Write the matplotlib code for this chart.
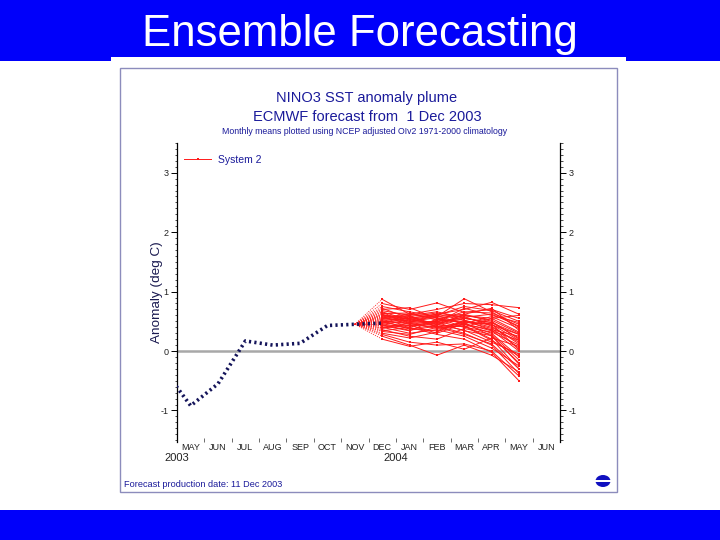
import numpy as np
import matplotlib
matplotlib.use('Agg')
import matplotlib.pyplot as plt
from matplotlib.patches import Rectangle, Ellipse
from matplotlib.ticker import MultipleLocator, FixedLocator, NullFormatter
import matplotlib.transforms as mtransforms

plt.rcParams['font.family'] = ['Liberation Sans', 'DejaVu Sans']
plt.rcParams['axes.unicode_minus'] = False

# --- данные ---
month_labels = ['MAY', 'JUN', 'JUL', 'AUG', 'SEP', 'OCT', 'NOV',
                'DEC', 'JAN', 'FEB', 'MAR', 'APR', 'MAY', 'JUN']
year_labels = ['2003', '2004']
year_starts = [0, 8]             # индекс месяца (от мая 2003), где начинается год

# наблюдения: месяцы от мая 2003 (апрель = -1)
obs_months = [-1, 0, 1, 2, 3, 4, 5, 6, 7]
obs_anom = [-0.30, -0.92, -0.55, 0.17, 0.10, 0.13, 0.43, 0.45, 0.47]

# прогноз System 2: дек 2003 .. май 2004
fc_months = [7, 8, 9, 10, 11, 12]
fan_start = 6                    # ноябрь 2003
members = [
    [0.87, 0.62, 0.70, 0.80, 0.78, 0.73],
    [0.80, 0.70, 0.81, 0.65, 0.70, 0.55],
    [0.75, 0.66, 0.58, 0.88, 0.66, 0.40],
    [0.72, 0.55, 0.62, 0.70, 0.82, 0.62],
    [0.70, 0.73, 0.55, 0.60, 0.52, 0.30],
    [0.68, 0.60, 0.66, 0.56, 0.45, 0.18],
    [0.66, 0.52, 0.48, 0.72, 0.60, 0.48],
    [0.63, 0.64, 0.52, 0.50, 0.38, 0.05],
    [0.62, 0.48, 0.60, 0.45, 0.30, -0.10],
    [0.60, 0.57, 0.44, 0.62, 0.72, 0.35],
    [0.58, 0.45, 0.50, 0.55, 0.48, 0.22],
    [0.56, 0.60, 0.40, 0.48, 0.25, -0.20],
    [0.55, 0.50, 0.56, 0.40, 0.55, 0.60],
    [0.53, 0.42, 0.46, 0.58, 0.42, 0.12],
    [0.52, 0.55, 0.62, 0.52, 0.35, 0.00],
    [0.50, 0.47, 0.38, 0.43, 0.20, -0.30],
    [0.49, 0.40, 0.52, 0.66, 0.64, 0.45],
    [0.48, 0.58, 0.45, 0.35, 0.15, -0.05],
    [0.46, 0.38, 0.34, 0.50, 0.44, 0.28],
    [0.45, 0.52, 0.58, 0.62, 0.50, 0.20],
    [0.44, 0.35, 0.42, 0.30, 0.10, -0.38],
    [0.42, 0.44, 0.30, 0.46, 0.58, 0.38],
    [0.40, 0.30, 0.36, 0.25, 0.05, -0.25],
    [0.38, 0.48, 0.50, 0.40, 0.32, 0.10],
    [0.36, 0.25, 0.20, 0.38, 0.28, -0.15],
    [0.34, 0.40, 0.28, 0.20, -0.02, -0.50],
    [0.30, 0.22, 0.32, 0.52, 0.40, 0.15],
    [0.28, 0.15, 0.10, 0.12, 0.00, -0.42],
    [0.25, 0.10, -0.07, 0.10, -0.07, -0.35],
    [0.20, 0.08, 0.15, 0.03, 0.22, 0.08],
    [0.59, 0.50, 0.47, 0.60, 0.55, 0.32],
    [0.47, 0.55, 0.42, 0.45, 0.36, 0.25],
    [0.43, 0.34, 0.54, 0.48, 0.46, 0.02],
    [0.65, 0.46, 0.40, 0.42, 0.18, -0.08],
    [0.54, 0.58, 0.64, 0.57, 0.62, 0.42],
    [0.39, 0.43, 0.48, 0.34, 0.26, -0.22],
    [0.51, 0.37, 0.44, 0.55, 0.48, 0.28],
    [0.57, 0.62, 0.56, 0.46, 0.34, 0.18],
    [0.33, 0.28, 0.40, 0.28, 0.12, -0.30],
    [0.61, 0.53, 0.60, 0.75, 0.68, 0.50],
]

NAVY = '#1a1a9a'
RED = '#ff1a1a'
BLUE = '#0000fa'

W, H = 720, 540


def fbox(x0, y0, x1, y1):
    # пиксели (сверху вниз) -> координаты фигуры
    return [x0 / W, 1 - y1 / H, (x1 - x0) / W, (y1 - y0) / H]


fig = plt.figure(figsize=(7.2, 5.4), dpi=100)

# фон слайда
for x0, y0, x1, y1, c in [(0, 0, 720, 61, BLUE), (111, 57, 626, 61, 'white'),
                          (0, 510, 720, 540, BLUE)]:
    b = fbox(x0, y0, x1, y1)
    fig.add_artist(Rectangle((b[0], b[1]), b[2], b[3], transform=fig.transFigure,
                             facecolor=c, edgecolor='none', zorder=0))
fig.text(0.5, 1 - 46 / H, 'Ensemble Forecasting', color='white', fontsize=31.5,
         ha='center', va='baseline')

# рамка картинки
b = fbox(120, 68, 617, 492)
fig.add_artist(Rectangle((b[0], b[1]), b[2], b[3], transform=fig.transFigure,
                         facecolor='none', edgecolor='#8c8cbc', lw=1.0, zorder=1))

fig.text(367 / W, 1 - 102 / H, 'NINO3 SST anomaly plume', color=NAVY,
         fontsize=10.5, ha='center', va='baseline')
fig.text(367 / W, 1 - 121 / H, 'ECMWF forecast from  1 Dec 2003', color=NAVY,
         fontsize=10.5, ha='center', va='baseline')
fig.text(365 / W, 1 - 134 / H,
         'Monthly means plotted using NCEP adjusted OIv2 1971-2000 climatology',
         color=NAVY, fontsize=6.3, ha='center', va='baseline')
fig.text(124 / W, 1 - 487 / H, 'Forecast production date: 11 Dec 2003',
         color=NAVY, fontsize=6.6, ha='left', va='baseline')

# логотип ECMWF (упрощённо)
lx, ly = 603 / W, 1 - 481 / H
fig.add_artist(Ellipse((lx, ly), 15 / W, 12 / H, transform=fig.transFigure,
                       facecolor='#1010c0', edgecolor='none', zorder=2))
fig.add_artist(Rectangle((lx - 8 / W, ly - 1 / H), 16 / W, 2 / H,
                         transform=fig.transFigure, facecolor='white',
                         edgecolor='none', zorder=3))

# --- график ---
ax = fig.add_axes(fbox(177, 143, 560, 442))
ax.set_xlim(0, 14)
ax.set_ylim(-1.53, 3.5)

ax.axhline(0, color='#a8a8a8', lw=1.8, zorder=1)

obs_x = np.array(obs_months) + 0.5
ax.plot(obs_x, obs_anom, color='#14145a', lw=2.6, ls=(0, (0.6, 0.9)),
        dash_capstyle='butt', zorder=4)

fc_x = np.array(fc_months) + 0.5
x0 = fan_start + 0.5
y0 = obs_anom[obs_months.index(fan_start)]
for i, m in enumerate(members):
    ax.plot([x0, fc_x[0]], [y0, m[0]], color=RED, lw=0.55, ls=(0, (1.5, 1.5)),
            zorder=3)
    ax.plot(fc_x, m, color=RED, lw=0.7, marker='s', ms=1.6, mew=0,
            zorder=3, label='System 2' if i == 0 else None)

leg = ax.legend(loc='upper left', bbox_to_anchor=(0.0, 0.985), frameon=False,
                handlelength=2.6, handletextpad=0.6, borderaxespad=0.3,
                fontsize=7.5)
for t in leg.get_texts():
    t.set_color(NAVY)

ax.set_ylabel('Anomaly (deg C)', fontsize=9.7, color='#1a1a50')
ax.yaxis.set_label_coords(-0.036, 0.5)

for side in ['top', 'bottom']:
    ax.spines[side].set_visible(False)
for side in ['left', 'right']:
    ax.spines[side].set_linewidth(0.9)

ax.yaxis.set_major_locator(MultipleLocator(1))
ax.yaxis.set_minor_locator(MultipleLocator(0.1))
ax.tick_params(axis='y', which='both', left=True, right=True,
               labelleft=True, labelright=True, direction='out')
ax.tick_params(axis='y', which='major', length=4, width=0.7, labelsize=6.5,
               labelcolor='#222222', pad=2)
ax.tick_params(axis='y', which='minor', length=1.8, width=0.5)

ax.xaxis.set_major_locator(FixedLocator(range(15)))
ax.xaxis.set_major_formatter(NullFormatter())
ax.xaxis.set_minor_locator(FixedLocator(np.arange(14) + 0.5))
ax.set_xticklabels(month_labels, minor=True)
ax.tick_params(axis='x', which='major', direction='in', length=3, width=0.6,
               color='#555555')
ax.tick_params(axis='x', which='minor', length=0, labelsize=6.5,
               labelcolor='#222222', pad=1)

trans = mtransforms.blended_transform_factory(ax.transData, ax.transAxes)
for xs, lab in zip(year_starts, year_labels):
    ax.text(xs, -0.055, lab, transform=trans, fontsize=8, color='#222222',
            ha='center', va='center')

fig.savefig('out.png', dpi=100)
